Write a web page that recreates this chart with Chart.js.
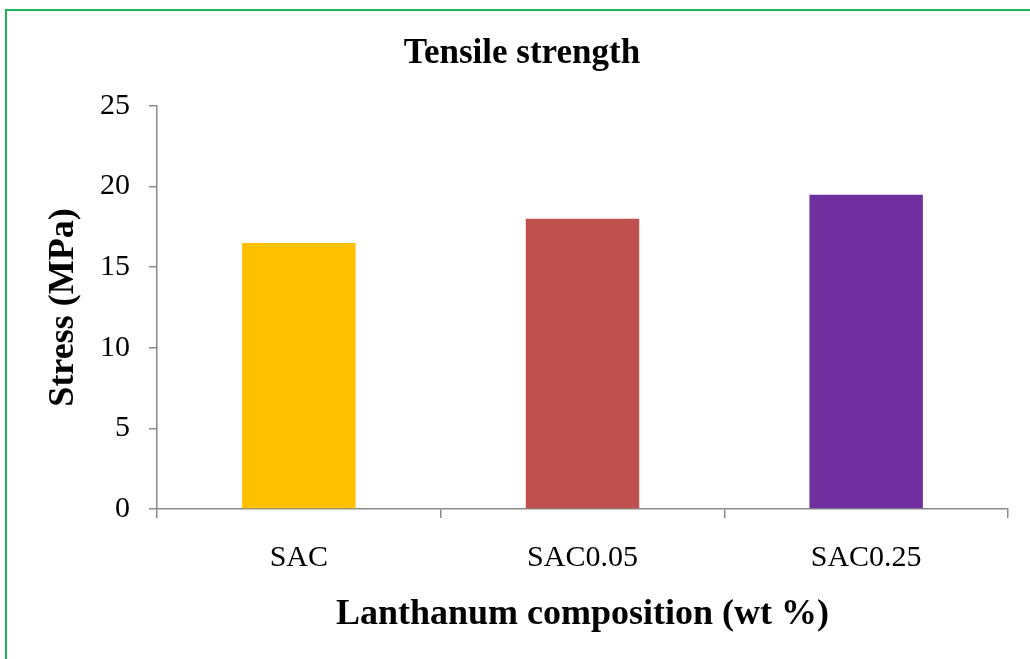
<!DOCTYPE html>
<html>
<head>
<meta charset="utf-8">
<script src="https://cdn.jsdelivr.net/npm/chart.js@4"></script>
<style>
    html, body { margin: 0; padding: 0; background: #fff; overflow: hidden; }
    #wrap { position: relative; width: 1030px; height: 659px; }
    #frame {
        position: absolute; left: 5px; top: 9px; width: 1100px; height: 700px;
        border-left: 2px solid #1db558; border-top: 2px solid #1db558;
        pointer-events: none;
    }
</style>
</head>
<body>
<div id="wrap">
    <canvas id="strengthChart" width="1030" height="659"></canvas>
    <div id="frame"></div>
</div>
<script>
const categories = ['SAC', 'SAC0.05', 'SAC0.25'];
const stress = [16.5, 18, 19.5];
const barColors = ['#FFC000', '#C0504D', '#7030A0'];
const yTicks = [0, 5, 10, 15, 20, 25];

const serif = "'Liberation Serif', 'Times New Roman', serif";
const axisGray = '#8a8a8a';

function createStrengthChart() {
    const ctx = document.getElementById('strengthChart').getContext('2d');
    new Chart(ctx, {
        type: 'bar',
        data: {
            labels: categories,
            datasets: [{
                label: 'Stress (MPa)',
                data: stress,
                backgroundColor: barColors,
                barPercentage: 0.4,
                categoryPercentage: 1
            }]
        },
        options: {
            responsive: false,
            animation: false,
            layout: {
                padding: { left: 36, right: 22, top: 0, bottom: 0 }
            },
            plugins: {
                legend: { display: false },
                tooltip: { enabled: false },
                title: {
                    display: true,
                    text: 'Tensile strength',
                    color: '#000',
                    font: { family: serif, size: 35, weight: 'bold', lineHeight: 1.2 },
                    padding: { top: 33, bottom: 31 }
                }
            },
            scales: {
                x: {
                    grid: {
                        offset: true,
                        drawOnChartArea: false,
                        drawTicks: true,
                        tickLength: 9,
                        color: axisGray,
                        lineWidth: 1.5
                    },
                    border: { color: axisGray, width: 1.5 },
                    ticks: {
                        color: '#000',
                        padding: 22,
                        font: { family: serif, size: 30 }
                    },
                    title: {
                        display: true,
                        text: 'Lanthanum composition (wt %)',
                        color: '#000',
                        font: { family: serif, size: 36, weight: 'bold', lineHeight: 1.2 },
                        padding: { top: 0, bottom: 23 }
                    },
                    afterFit: scale => { scale.height = 150; }
                },
                y: {
                    min: yTicks[0],
                    max: yTicks[yTicks.length - 1],
                    afterBuildTicks: scale => {
                        scale.ticks = yTicks.map(v => ({ value: v }));
                    },
                    grid: {
                        drawOnChartArea: false,
                        drawTicks: true,
                        tickLength: 8,
                        color: axisGray,
                        lineWidth: 1.5
                    },
                    border: { color: axisGray, width: 1.5 },
                    ticks: {
                        color: '#000',
                        padding: 19,
                        font: { family: serif, size: 30 }
                    },
                    title: {
                        display: true,
                        text: 'Stress (MPa)',
                        color: '#000',
                        font: { family: serif, size: 36, weight: 'bold', lineHeight: 1.2 },
                        padding: { top: 6, bottom: 0 }
                    },
                    afterFit: scale => { scale.width = 121; }
                }
            }
        }
    });
}

document.addEventListener('DOMContentLoaded', createStrengthChart);
</script>
</body>
</html>
